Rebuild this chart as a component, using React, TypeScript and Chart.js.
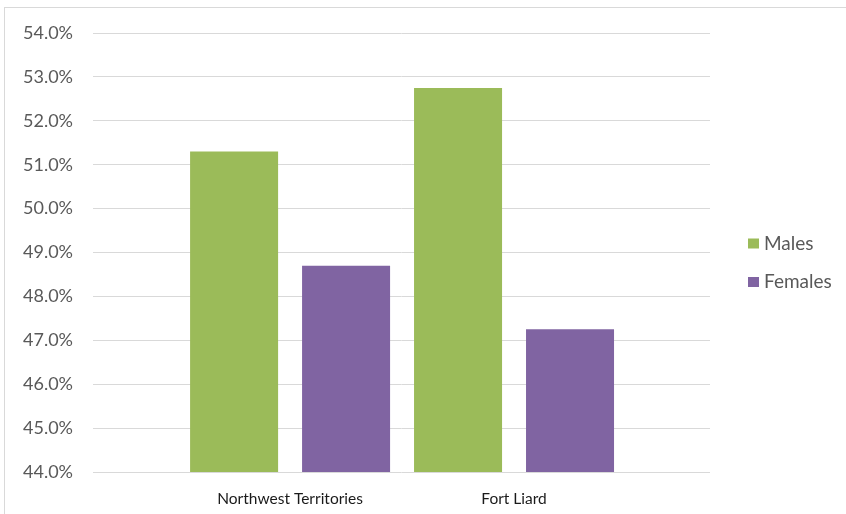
import { useEffect, useRef } from "react";
import { Chart, registerables } from "chart.js";

Chart.register(...registerables);

// Share of population by sex
const categories = ["Northwest Territories", "Fort Liard"];
const seriesNames = ["Males", "Females"];
const males = [51.3, 52.75];
const females = [48.7, 47.25];
const seriesValues = [males, females];
const seriesColors = ["#9BBB59", "#8064A2"];
const yMin = 44;
const yMax = 54;
const yStep = 1;

const FONT = "Lato, 'Open Sans', sans-serif";

// Legend drawn to the right of the plot, squares followed by the series names
const sideLegend = {
  id: "sideLegend",
  afterDraw(chart: any) {
    const { ctx, chartArea } = chart;
    const x = chartArea.right + 38;
    const baseY = chart.height / 2 - 13.5;
    ctx.save();
    ctx.font = `19px ${FONT}`;
    ctx.textBaseline = "middle";
    ctx.textAlign = "left";
    chart.data.datasets.forEach((ds: any, i: number) => {
      const cy = baseY + i * 38.5;
      ctx.fillStyle = ds.backgroundColor;
      ctx.fillRect(x, cy - 5, 11, 10);
      ctx.fillStyle = "#595959";
      ctx.fillText(ds.label, x + 16, cy);
    });
    ctx.restore();
  },
};

export default function App() {
  const canvasRef = useRef<HTMLCanvasElement | null>(null);

  useEffect(() => {
    if (!canvasRef.current) return;
    const chart = new Chart(canvasRef.current, {
      type: "bar",
      data: {
        datasets: seriesNames.map((name, s) => ({
          label: name,
          data: seriesValues[s].map((v, i) => ({ x: i + 1, y: v })),
          backgroundColor: seriesColors[s],
          borderWidth: 0,
          categoryPercentage: 1,
          barPercentage: 0.786,
        })),
      },
      options: {
        animation: false,
        responsive: false,
        devicePixelRatio: 1,
        layout: { padding: { left: 0, right: 136, top: 33, bottom: 0 } },
        plugins: {
          legend: { display: false },
          tooltip: { enabled: false },
        },
        scales: {
          x: {
            type: "linear",
            offset: false,
            min: 0.12,
            max: 2.875,
            grid: { display: false, offset: false },
            border: { display: false },
            afterBuildTicks: (scale: any) => {
              scale.ticks = categories.map((_, i) => ({ value: i + 1 }));
            },
            afterFit: (scale: any) => {
              scale.height = 42;
            },
            ticks: {
              autoSkip: false,
              maxRotation: 0,
              padding: 10,
              color: "#1a1a1a",
              font: { family: FONT, size: 15.5 },
              callback: (v: any) => categories[Math.round(Number(v)) - 1] ?? "",
            },
          },
          y: {
            min: yMin,
            max: yMax,
            grid: { color: "#D9D9D9", lineWidth: 1, drawTicks: false },
            border: { display: false },
            afterFit: (scale: any) => {
              scale.width = 93;
            },
            ticks: {
              stepSize: yStep,
              padding: 20,
              color: "#595959",
              font: { family: FONT, size: 18 },
              callback: (v: any) => Number(v).toFixed(1) + "%",
            },
          },
        },
      },
      plugins: [sideLegend],
    });
    return () => chart.destroy();
  }, []);

  return (
    <div
      style={{
        position: "absolute",
        left: 0,
        top: 0,
        width: 846,
        height: 514,
        overflow: "hidden",
        background: "#ffffff",
      }}
    >
      <div
        style={{
          position: "absolute",
          left: 4,
          top: 7,
          width: 1000,
          height: 1000,
          border: "1px solid #D9D9D9",
        }}
      />
      <canvas
        ref={canvasRef}
        width={846}
        height={514}
        style={{ position: "absolute", left: 0, top: 0 }}
      />
    </div>
  );
}
